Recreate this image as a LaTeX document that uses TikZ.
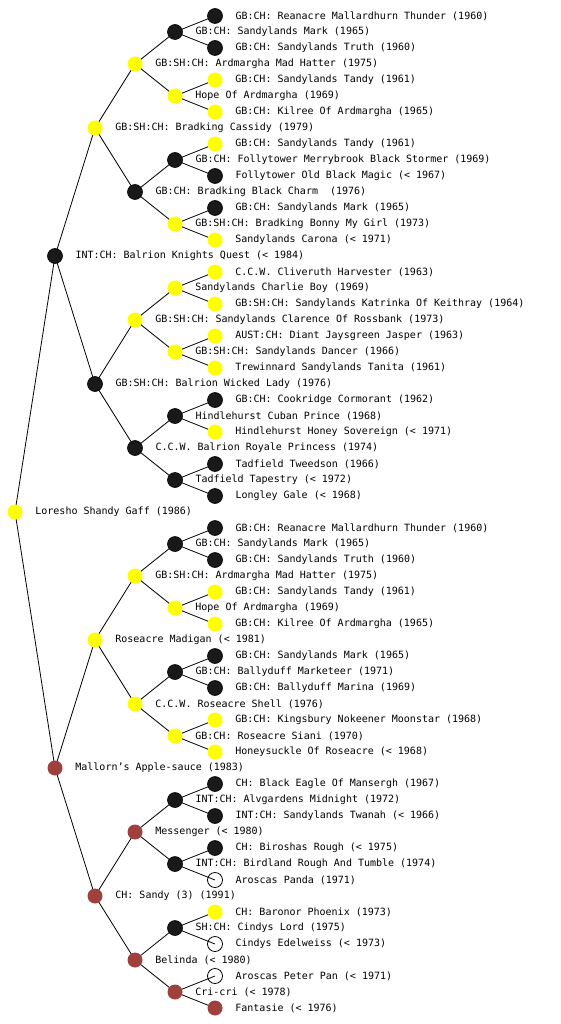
\documentclass[tikz,border=0pt]{standalone}
\usepackage{fontspec}
\setmonofont{DejaVu Sans Mono}
\usepackage{tikz}
\usetikzlibrary{backgrounds}

\definecolor{pedbrown}{RGB}{160,64,60}
\definecolor{pedyellow}{RGB}{255,255,0}

\begin{document}
\begin{tikzpicture}[
  x=1pt, y=1pt,
  dotbase/.style={circle, minimum size=15pt, inner sep=0pt},
  blackdot/.style={dotbase, fill=black!90, draw=black, line width=0.6pt},
  yellowdot/.style={dotbase, fill=pedyellow},
  browndot/.style={dotbase, fill=pedbrown},
  opendot/.style={dotbase, draw=black, line width=0.8pt},
  link/.style={line width=0.8pt, black},
  every label/.style={font=\ttfamily\fontsize{10}{12}\selectfont, inner sep=0pt},
  label distance=12.5pt
]
\useasboundingbox (0,0) rectangle (560,-1024);
% first sire line: Balrion Knights Quest
\node[blackdot, label=right:{GB:CH: Reanacre Mallardhurn Thunder (1960)}] (n1) at (215,-16) {};
\node[blackdot, label=right:{GB:CH: Sandylands Mark (1965)}] (n2) at (175,-32) {};
\node[blackdot, label=right:{GB:CH: Sandylands Truth (1960)}] (n3) at (215,-48) {};
\node[yellowdot, label=right:{GB:SH:CH: Ardmargha Mad Hatter (1975)}] (n4) at (135,-64) {};
\node[yellowdot, label=right:{GB:CH: Sandylands Tandy (1961)}] (n5) at (215,-80) {};
\node[yellowdot, label=right:{Hope Of Ardmargha (1969)}] (n6) at (175,-96) {};
\node[yellowdot, label=right:{GB:CH: Kilree Of Ardmargha (1965)}] (n7) at (215,-112) {};
\node[yellowdot, label=right:{GB:SH:CH: Bradking Cassidy (1979)}] (n8) at (95,-128) {};
\node[yellowdot, label=right:{GB:CH: Sandylands Tandy (1961)}] (n9) at (215,-144) {};
\node[blackdot, label=right:{GB:CH: Follytower Merrybrook Black Stormer (1969)}] (n10) at (175,-160) {};
\node[blackdot, label=right:{Follytower Old Black Magic (< 1967)}] (n11) at (215,-176) {};
\node[blackdot, label=right:{GB:CH: Bradking Black Charm\ \ (1976)}] (n12) at (135,-192) {};
\node[blackdot, label=right:{GB:CH: Sandylands Mark (1965)}] (n13) at (215,-208) {};
\node[yellowdot, label=right:{GB:SH:CH: Bradking Bonny My Girl (1973)}] (n14) at (175,-224) {};
\node[yellowdot, label=right:{Sandylands Carona (< 1971)}] (n15) at (215,-240) {};
\node[blackdot, label=right:{INT:CH: Balrion Knights Quest (< 1984)}] (n16) at (55,-256) {};
\node[yellowdot, label=right:{C.C.W. Cliveruth Harvester (1963)}] (n17) at (215,-272) {};
\node[yellowdot, label=right:{Sandylands Charlie Boy (1969)}] (n18) at (175,-288) {};
\node[yellowdot, label=right:{GB:SH:CH: Sandylands Katrinka Of Keithray (1964)}] (n19) at (215,-304) {};
\node[yellowdot, label=right:{GB:SH:CH: Sandylands Clarence Of Rossbank (1973)}] (n20) at (135,-320) {};
\node[yellowdot, label=right:{AUST:CH: Diant Jaysgreen Jasper (1963)}] (n21) at (215,-336) {};
\node[yellowdot, label=right:{GB:SH:CH: Sandylands Dancer (1966)}] (n22) at (175,-352) {};
\node[yellowdot, label=right:{Trewinnard Sandylands Tanita (1961)}] (n23) at (215,-368) {};
\node[blackdot, label=right:{GB:SH:CH: Balrion Wicked Lady (1976)}] (n24) at (95,-384) {};
\node[blackdot, label=right:{GB:CH: Cookridge Cormorant (1962)}] (n25) at (215,-400) {};
\node[blackdot, label=right:{Hindlehurst Cuban Prince (1968)}] (n26) at (175,-416) {};
\node[yellowdot, label=right:{Hindlehurst Honey Sovereign (< 1971)}] (n27) at (215,-432) {};
\node[blackdot, label=right:{C.C.W. Balrion Royale Princess (1974)}] (n28) at (135,-448) {};
\node[blackdot, label=right:{Tadfield Tweedson (1966)}] (n29) at (215,-464) {};
\node[blackdot, label=right:{Tadfield Tapestry (< 1972)}] (n30) at (175,-480) {};
\node[blackdot, label=right:{Longley Gale (< 1968)}] (n31) at (215,-496) {};
% the dog itself
\node[yellowdot, label=right:{Loresho Shandy Gaff (1986)}] (n32) at (15,-512) {};
% dam line: Mallorn's Apple-sauce
\node[blackdot, label=right:{GB:CH: Reanacre Mallardhurn Thunder (1960)}] (n33) at (215,-528) {};
\node[blackdot, label=right:{GB:CH: Sandylands Mark (1965)}] (n34) at (175,-544) {};
\node[blackdot, label=right:{GB:CH: Sandylands Truth (1960)}] (n35) at (215,-560) {};
\node[yellowdot, label=right:{GB:SH:CH: Ardmargha Mad Hatter (1975)}] (n36) at (135,-576) {};
\node[yellowdot, label=right:{GB:CH: Sandylands Tandy (1961)}] (n37) at (215,-592) {};
\node[yellowdot, label=right:{Hope Of Ardmargha (1969)}] (n38) at (175,-608) {};
\node[yellowdot, label=right:{GB:CH: Kilree Of Ardmargha (1965)}] (n39) at (215,-624) {};
\node[yellowdot, label=right:{Roseacre Madigan (< 1981)}] (n40) at (95,-640) {};
\node[blackdot, label=right:{GB:CH: Sandylands Mark (1965)}] (n41) at (215,-656) {};
\node[blackdot, label=right:{GB:CH: Ballyduff Marketeer (1971)}] (n42) at (175,-672) {};
\node[blackdot, label=right:{GB:CH: Ballyduff Marina (1969)}] (n43) at (215,-688) {};
\node[yellowdot, label=right:{C.C.W. Roseacre Shell (1976)}] (n44) at (135,-704) {};
\node[yellowdot, label=right:{GB:CH: Kingsbury Nokeener Moonstar (1968)}] (n45) at (215,-720) {};
\node[yellowdot, label=right:{GB:CH: Roseacre Siani (1970)}] (n46) at (175,-736) {};
\node[yellowdot, label=right:{Honeysuckle Of Roseacre (< 1968)}] (n47) at (215,-752) {};
\node[browndot, label=right:{Mallorn’s Apple-sauce (1983)}] (n48) at (55,-768) {};
\node[blackdot, label=right:{CH: Black Eagle Of Mansergh (1967)}] (n49) at (215,-784) {};
\node[blackdot, label=right:{INT:CH: Alvgardens Midnight (1972)}] (n50) at (175,-800) {};
\node[blackdot, label=right:{INT:CH: Sandylands Twanah (< 1966)}] (n51) at (215,-816) {};
\node[browndot, label=right:{Messenger (< 1980)}] (n52) at (135,-832) {};
\node[blackdot, label=right:{CH: Biroshas Rough (< 1975)}] (n53) at (215,-848) {};
\node[blackdot, label=right:{INT:CH: Birdland Rough And Tumble (1974)}] (n54) at (175,-864) {};
\node[opendot, label=right:{Aroscas Panda (1971)}] (n55) at (215,-880) {};
\node[browndot, label=right:{CH: Sandy (3) (1991)}] (n56) at (95,-896) {};
\node[yellowdot, label=right:{CH: Baronor Phoenix (1973)}] (n57) at (215,-912) {};
\node[blackdot, label=right:{SH:CH: Cindys Lord (1975)}] (n58) at (175,-928) {};
\node[opendot, label=right:{Cindys Edelweiss (< 1973)}] (n59) at (215,-944) {};
\node[browndot, label=right:{Belinda (< 1980)}] (n60) at (135,-960) {};
\node[opendot, label=right:{Aroscas Peter Pan (< 1971)}] (n61) at (215,-976) {};
\node[browndot, label=right:{Cri-cri (< 1978)}] (n62) at (175,-992) {};
\node[browndot, label=right:{Fantasie (< 1976)}] (n63) at (215,-1008) {};
% parent links, centre to centre, behind the dots
\begin{scope}[on background layer]
\draw[link] (n32.center) -- (n16.center) (n32.center) -- (n48.center);
\draw[link] (n16.center) -- (n8.center) (n16.center) -- (n24.center);
\draw[link] (n48.center) -- (n40.center) (n48.center) -- (n56.center);
\draw[link] (n8.center) -- (n4.center) (n8.center) -- (n12.center);
\draw[link] (n24.center) -- (n20.center) (n24.center) -- (n28.center);
\draw[link] (n40.center) -- (n36.center) (n40.center) -- (n44.center);
\draw[link] (n56.center) -- (n52.center) (n56.center) -- (n60.center);
\draw[link] (n4.center) -- (n2.center) (n4.center) -- (n6.center);
\draw[link] (n12.center) -- (n10.center) (n12.center) -- (n14.center);
\draw[link] (n20.center) -- (n18.center) (n20.center) -- (n22.center);
\draw[link] (n28.center) -- (n26.center) (n28.center) -- (n30.center);
\draw[link] (n36.center) -- (n34.center) (n36.center) -- (n38.center);
\draw[link] (n44.center) -- (n42.center) (n44.center) -- (n46.center);
\draw[link] (n52.center) -- (n50.center) (n52.center) -- (n54.center);
\draw[link] (n60.center) -- (n58.center) (n60.center) -- (n62.center);
\draw[link] (n2.center) -- (n1.center) (n2.center) -- (n3.center);
\draw[link] (n6.center) -- (n5.center) (n6.center) -- (n7.center);
\draw[link] (n10.center) -- (n9.center) (n10.center) -- (n11.center);
\draw[link] (n14.center) -- (n13.center) (n14.center) -- (n15.center);
\draw[link] (n18.center) -- (n17.center) (n18.center) -- (n19.center);
\draw[link] (n22.center) -- (n21.center) (n22.center) -- (n23.center);
\draw[link] (n26.center) -- (n25.center) (n26.center) -- (n27.center);
\draw[link] (n30.center) -- (n29.center) (n30.center) -- (n31.center);
\draw[link] (n34.center) -- (n33.center) (n34.center) -- (n35.center);
\draw[link] (n38.center) -- (n37.center) (n38.center) -- (n39.center);
\draw[link] (n42.center) -- (n41.center) (n42.center) -- (n43.center);
\draw[link] (n46.center) -- (n45.center) (n46.center) -- (n47.center);
\draw[link] (n50.center) -- (n49.center) (n50.center) -- (n51.center);
\draw[link] (n54.center) -- (n53.center) (n54.center) -- (n55.center);
\draw[link] (n58.center) -- (n57.center) (n58.center) -- (n59.center);
\draw[link] (n62.center) -- (n61.center) (n62.center) -- (n63.center);
\end{scope}
\end{tikzpicture}
\end{document}
